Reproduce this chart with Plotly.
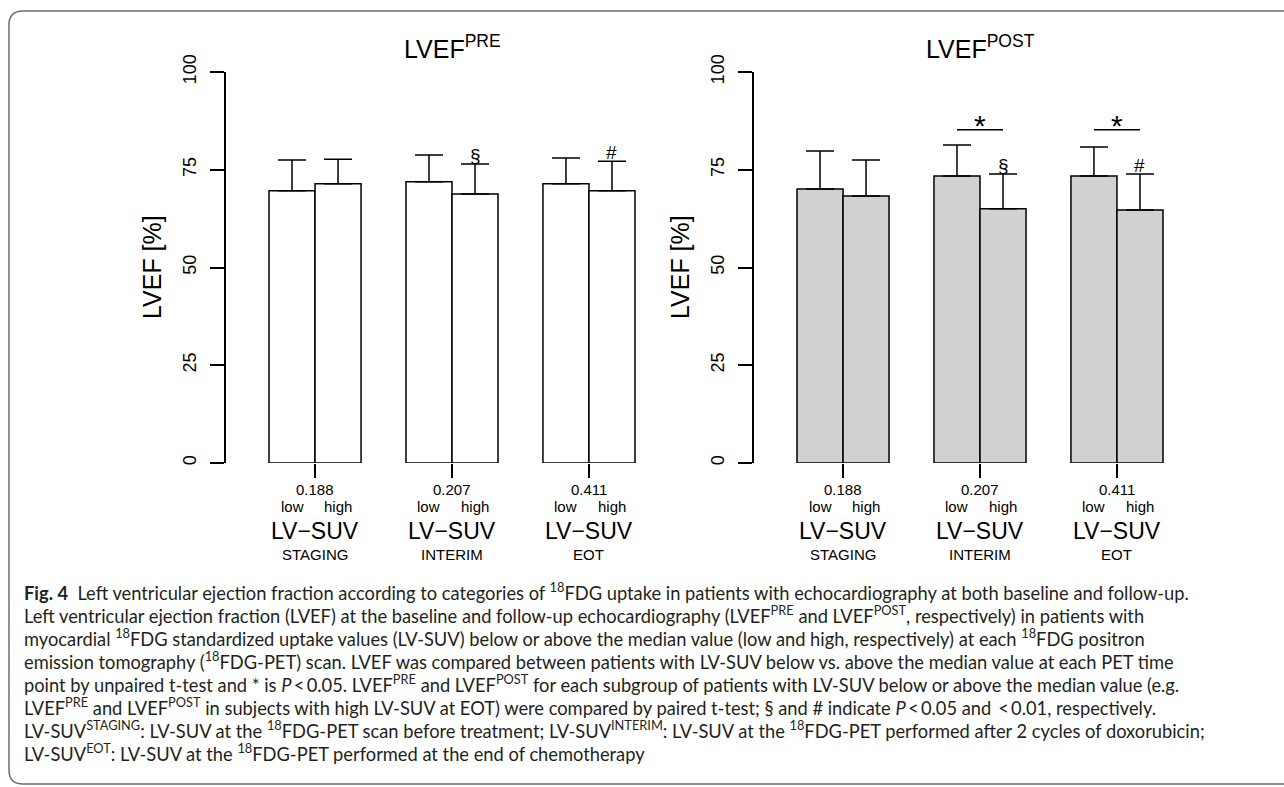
import plotly.graph_objects as go

W, H = 1284, 787

# ---------------- data ----------------
periods = ["STAGING", "INTERIM", "EOT"]
medians = ["0.188", "0.207", "0.411"]
groups = ["low", "high"]

pre_low = [69.6, 71.9, 71.4]
pre_low_sd = [7.9, 6.9, 6.6]
pre_high = [71.4, 68.8, 69.6]
pre_high_sd = [6.3, 7.7, 7.6]

post_low = [70.1, 73.4, 73.4]
post_low_sd = [9.7, 7.9, 7.4]
post_high = [68.3, 65.0, 64.7]
post_high_sd = [9.2, 8.9, 9.2]

paired_marks_pre = ["", "§", "#"]
paired_marks_post = ["", "§", "#"]
unpaired_star_pre = [False, False, False]
unpaired_star_post = [False, True, True]
star_level = 85.2

y_ticks = [0, 25, 50, 75, 100]

caption_lines = [
    "<b>Fig. 4</b>  Left ventricular ejection fraction according to categories of <sup>18</sup>FDG uptake in patients with echocardiography at both baseline and follow-up.",
    "Left ventricular ejection fraction (LVEF) at the baseline and follow-up echocardiography (LVEF<sup>PRE</sup> and LVEF<sup>POST</sup>, respectively) in patients with",
    "myocardial <sup>18</sup>FDG standardized uptake values (LV-SUV) below or above the median value (low and high, respectively) at each <sup>18</sup>FDG positron",
    "emission tomography (<sup>18</sup>FDG-PET) scan. LVEF was compared between patients with LV-SUV below vs. above the median value at each PET time",
    "point by unpaired t-test and * is <i>P</i>\u2009&lt;\u20090.05. LVEF<sup>PRE</sup> and LVEF<sup>POST</sup> for each subgroup of patients with LV-SUV below or above the median value (e.g.",
    "LVEF<sup>PRE</sup> and LVEF<sup>POST</sup> in subjects with high LV-SUV at EOT) were compared by paired t-test; § and # indicate <i>P</i>\u2009&lt;\u20090.05 and \u2009&lt;\u20090.01, respectively.",
    "LV-SUV<sup>STAGING</sup>: LV-SUV at the <sup>18</sup>FDG-PET scan before treatment; LV-SUV<sup>INTERIM</sup>: LV-SUV at the <sup>18</sup>FDG-PET performed after 2 cycles of doxorubicin;",
    "LV-SUV<sup>EOT</sup>: LV-SUV at the <sup>18</sup>FDG-PET performed at the end of chemotherapy",
]

# ---------------- layout helpers ----------------
FONT = "Liberation Sans, Arial, sans-serif"
CAP_FONT = "Lato, Liberation Sans, Arial, sans-serif"


def px(x):
    return x / W


def py(y):
    return 1 - y / H


bargap = 0.328
off = (1 - bargap) / 4
x_range = [-0.65, len(periods) - 0.35]
plot_top, plot_bot = 72, 463
panels = [
    dict(xa="x", ya="y", dom=(226, 678), title="LVEF<sup>PRE</sup>", fill="white",
         low=pre_low, low_sd=pre_low_sd, high=pre_high, high_sd=pre_high_sd,
         marks=paired_marks_pre, stars=unpaired_star_pre),
    dict(xa="x2", ya="y2", dom=(754, 1206), title="LVEF<sup>POST</sup>", fill="#d0d1d1",
         low=post_low, low_sd=post_low_sd, high=post_high, high_sd=post_high_sd,
         marks=paired_marks_post, stars=unpaired_star_post),
]


def cat_to_paper(p, xv):
    d0, d1 = px(p["dom"][0]), px(p["dom"][1])
    return d0 + (xv - x_range[0]) / (x_range[1] - x_range[0]) * (d1 - d0)


fig = go.Figure()
annotations = []
shapes = []

for k, p in enumerate(panels):
    for g, vals, sds in (("low", p["low"], p["low_sd"]), ("high", p["high"], p["high_sd"])):
        fig.add_trace(go.Bar(
            x=periods, y=vals, name=g, xaxis=p["xa"], yaxis=p["ya"], offsetgroup=g,
            marker=dict(color=p["fill"], line=dict(color="black", width=1.5)),
            error_y=dict(type="data", symmetric=False, array=sds, arrayminus=[0] * len(sds),
                         color="black", thickness=1.5, width=14),
            showlegend=False, hoverinfo="skip",
        ))
    sfx = "" if k == 0 else "2"
    fig.layout["xaxis" + sfx] = dict(
        type="category", range=x_range,
        domain=[px(p["dom"][0]), px(p["dom"][1])], anchor="y" + sfx,
        showline=False, showgrid=False, zeroline=False, showticklabels=False,
        ticks="outside", ticklen=14, tickwidth=1.5, tickcolor="black", fixedrange=True,
        automargin=False,
    )
    fig.layout["yaxis" + sfx] = dict(
        range=[0, 100], domain=[py(plot_bot), py(plot_top)], anchor="x" + sfx,
        tickvals=y_ticks, ticks="outside", ticklen=14, tickwidth=1.5, tickcolor="black",
        showline=True, linewidth=1.5, linecolor="black", showgrid=False, zeroline=False,
        tickangle=-90, tickfont=dict(family=FONT, size=18, color="black"),
        ticklabelstandoff=7, fixedrange=True, automargin=False,
    )
    cx = (p["dom"][0] + p["dom"][1]) / 2
    # panel title
    annotations.append(dict(text=p["title"], x=px(cx), y=py(47), xref="paper", yref="paper",
                            showarrow=False, xanchor="center", yanchor="middle",
                            font=dict(family=FONT, size=25, color="black")))
    # y-axis title
    annotations.append(dict(text="LVEF [%]", x=px(p["dom"][0] - 74), y=py(267), xref="paper",
                            yref="paper", showarrow=False, textangle=-90,
                            xanchor="center", yanchor="middle",
                            font=dict(family=FONT, size=25, color="black")))
    # category labels below
    for i, per in enumerate(periods):
        lab = [
            (medians[i], i, 489, 15),
            ("low", i - off, 507, 15),
            ("high", i + off, 507, 15),
            ("LV\u2212SUV", i, 531, 23),
            (per, i, 554, 15),
        ]
        for txt, xv, yv, fs in lab:
            annotations.append(dict(text=txt, x=cat_to_paper(p, xv), y=py(yv), xref="paper",
                                    yref="paper", showarrow=False, xanchor="center",
                                    yanchor="middle",
                                    font=dict(family=FONT, size=fs, color="black")))
        # paired-test marks
        if p["marks"][i]:
            annotations.append(dict(text=p["marks"][i], x=cat_to_paper(p, i + off),
                                    y=p["high"][i] + p["high_sd"][i],
                                    xref="paper", yref=p["ya"], showarrow=False,
                                    xanchor="center", yanchor="bottom", yshift=-4,
                                    font=dict(family=FONT, size=19, color="black")))
        # unpaired-test star
        if p["stars"][i]:
            shapes.append(dict(type="line", xref=p["xa"], yref=p["ya"], x0=i - off, x1=i + off,
                               y0=star_level, y1=star_level, line=dict(color="black", width=1.5)))
            annotations.append(dict(text="*", x=cat_to_paper(p, i), y=star_level, xref="paper",
                                    yref=p["ya"], showarrow=False, xanchor="center",
                                    yanchor="bottom", yshift=-14,
                                    font=dict(family=FONT, size=30, color="black")))

# caption
for j, line in enumerate(caption_lines):
    annotations.append(dict(text=line, x=px(22), y=py(591 + 23 * j), xref="paper", yref="paper",
                            showarrow=False, xanchor="left", yanchor="middle", align="left",
                            font=dict(family=CAP_FONT, size=18.3, color="#231f20")))

# rounded frame
x0, y0, x1, y1, r = 9, 11, 1300, 784, 14
path = (f"M {px(x1)},{py(y0)} L {px(x0 + r)},{py(y0)} Q {px(x0)},{py(y0)} {px(x0)},{py(y0 + r)} "
        f"L {px(x0)},{py(y1 - r)} Q {px(x0)},{py(y1)} {px(x0 + r)},{py(y1)} L {px(x1)},{py(y1)}")
shapes.append(dict(type="path", path=path, xref="paper", yref="paper",
                   line=dict(color="#6d6d6d", width=1.5)))

fig.update_layout(
    width=W, height=H, margin=dict(l=0, r=0, t=0, b=0, autoexpand=False),
    paper_bgcolor="white", plot_bgcolor="white",
    barmode="group", bargap=bargap, bargroupgap=0,
    annotations=annotations, shapes=shapes,
    font=dict(family=FONT, color="black"),
)

fig.write_html("out.html", post_script="document.body.style.margin='0';",
               config={"displayModeBar": False})
